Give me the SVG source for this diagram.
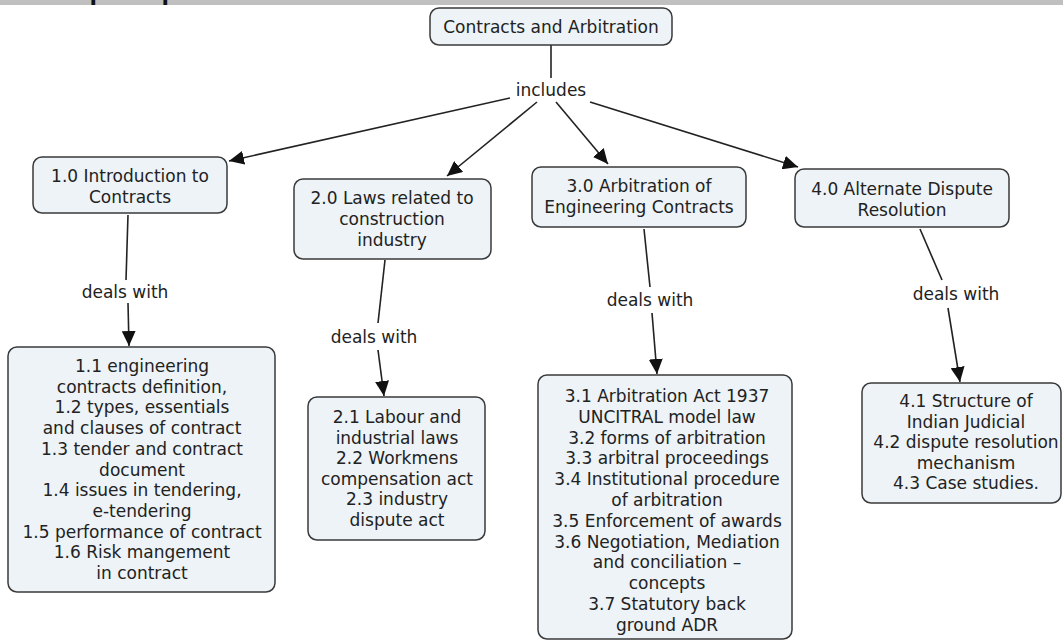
<svg xmlns="http://www.w3.org/2000/svg" width="1063" height="641" viewBox="0 0 1063 641">
<style>
.box{fill:#edf3f6;stroke:#3a3a3a;stroke-width:1.5}
.t{font-family:"DejaVu Sans",Verdana,sans-serif;font-size:17px;fill:#222;text-anchor:middle}
.lbl{font-family:"DejaVu Sans",Verdana,sans-serif;font-size:17px;fill:#222;text-anchor:middle}
.c{stroke:#222;stroke-width:1.6;fill:none}
.a{marker-end:url(#arr)}
</style>
<defs>
<marker id="arr" markerUnits="userSpaceOnUse" markerWidth="16" markerHeight="14" refX="15" refY="7" orient="auto">
<path d="M0,0 L15,7 L0,14 Z" fill="#111"/>
</marker>
</defs>
<rect x="0" y="0" width="1063" height="5" fill="#c0c0c0"/>
<text x="7" y="-1" font-family="Liberation Sans,Arial,sans-serif" font-size="27" font-weight="bold" fill="#111">Concept map</text>

<g id="connectors">
<line class="c" x1="551" y1="45" x2="551" y2="78"/>
<line class="c a" x1="510" y1="98" x2="229" y2="161"/>
<line class="c a" x1="537" y1="102" x2="447" y2="176"/>
<line class="c a" x1="556" y1="102" x2="608" y2="164"/>
<line class="c a" x1="590" y1="102" x2="798" y2="167"/>
<line class="c" x1="128" y1="215" x2="126" y2="280"/>
<line class="c a" x1="128" y1="303" x2="129" y2="346"/>
<line class="c" x1="385" y1="260" x2="378" y2="323"/>
<line class="c a" x1="378" y1="350" x2="384" y2="396"/>
<line class="c" x1="644" y1="229" x2="650" y2="287"/>
<line class="c a" x1="652" y1="313" x2="657" y2="374"/>
<line class="c" x1="920" y1="229" x2="942" y2="280"/>
<line class="c a" x1="948" y1="308" x2="960" y2="382"/>
<text class="lbl" x="551" y="96">includes</text>
<text class="lbl" x="125" y="298">deals with</text>
<text class="lbl" x="374" y="343">deals with</text>
<text class="lbl" x="650" y="306">deals with</text>
<text class="lbl" x="956" y="300">deals with</text>
</g>

<g id="root">
<rect class="box" x="430" y="8" width="242" height="37" rx="9"/>
<text class="t" x="551" y="33">Contracts and Arbitration</text>
</g>

<g id="n1">
<rect class="box" x="33" y="157" width="194" height="56" rx="9"/>
<text class="t" x="130" y="182">1.0 Introduction to<tspan x="130" dy="20.5">Contracts</tspan></text>
</g>

<g id="n2">
<rect class="box" x="294" y="179" width="197" height="80" rx="9"/>
<text class="t" x="392" y="204">2.0 Laws related to<tspan x="392" dy="21">construction</tspan><tspan x="392" dy="21">industry</tspan></text>
</g>

<g id="n3">
<rect class="box" x="532" y="167" width="214" height="60" rx="9"/>
<text class="t" x="639" y="192">3.0 Arbitration of<tspan x="639" dy="21">Engineering Contracts</tspan></text>
</g>

<g id="n4">
<rect class="box" x="795" y="169" width="214" height="58" rx="9"/>
<text class="t" x="902" y="195">4.0 Alternate Dispute<tspan x="902" dy="20.5">Resolution</tspan></text>
</g>

<g id="n11">
<rect class="box" x="8" y="347" width="267" height="245" rx="9"/>
<text class="t" x="142" y="372">1.1 engineering<tspan x="142" dy="20.7">contracts definition,</tspan><tspan x="142" dy="20.7">1.2 types, essentials</tspan><tspan x="142" dy="20.7">and clauses of contract</tspan><tspan x="142" dy="20.7">1.3 tender and contract</tspan><tspan x="142" dy="20.7">document</tspan><tspan x="142" dy="20.7">1.4 issues in tendering,</tspan><tspan x="142" dy="20.7">e-tendering</tspan><tspan x="142" dy="20.7">1.5 performance of contract</tspan><tspan x="142" dy="20.7">1.6 Risk mangement</tspan><tspan x="142" dy="20.7">in contract</tspan></text>
</g>

<g id="n21">
<rect class="box" x="308" y="397" width="177" height="143" rx="9"/>
<text class="t" x="397" y="423">2.1 Labour and<tspan x="397" dy="20.6">industrial laws</tspan><tspan x="397" dy="20.6">2.2 Workmens</tspan><tspan x="397" dy="20.6">compensation act</tspan><tspan x="397" dy="20.6">2.3 industry</tspan><tspan x="397" dy="20.6">dispute act</tspan></text>
</g>

<g id="n31">
<rect class="box" x="538" y="375" width="254" height="264" rx="9"/>
<text class="t" x="667" y="402">3.1 Arbitration Act 1937<tspan x="667" dy="20.8">UNCITRAL model law</tspan><tspan x="667" dy="20.8">3.2 forms of arbitration</tspan><tspan x="667" dy="20.8">3.3 arbitral proceedings</tspan><tspan x="667" dy="20.8">3.4 Institutional procedure</tspan><tspan x="667" dy="20.8">of arbitration</tspan><tspan x="667" dy="20.8">3.5 Enforcement of awards</tspan><tspan x="667" dy="20.8">3.6 Negotiation, Mediation</tspan><tspan x="667" dy="20.8">and conciliation –</tspan><tspan x="667" dy="20.8">concepts</tspan><tspan x="667" dy="20.8">3.7 Statutory back</tspan><tspan x="667" dy="20.8">ground ADR</tspan></text>
</g>

<g id="n41">
<rect class="box" x="862" y="383" width="199" height="120" rx="9"/>
<text class="t" x="966" y="407">4.1 Structure of<tspan x="966" dy="20.5">Indian Judicial</tspan><tspan x="966" dy="20.5">4.2 dispute resolution</tspan><tspan x="966" dy="20.5">mechanism</tspan><tspan x="966" dy="20.5">4.3 Case studies.</tspan></text>
</g>
</svg>
